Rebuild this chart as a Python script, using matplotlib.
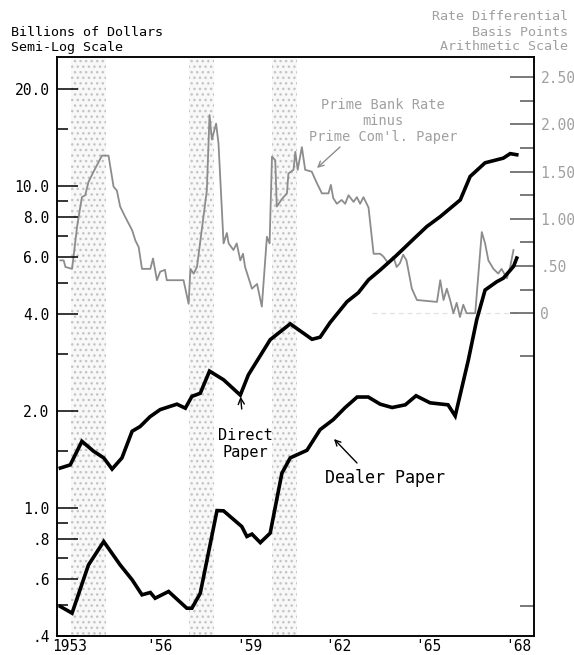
import matplotlib
matplotlib.use("Agg")
import matplotlib.pyplot as plt
from matplotlib.ticker import FixedLocator, NullFormatter, FixedFormatter

# ---------------- data ----------------
direct_years = [1953.19, 1953.52, 1953.91, 1954.30, 1954.64, 1954.92, 1955.25, 1955.59,
                1955.86, 1956.19, 1956.53, 1957.09, 1957.37, 1957.59, 1957.87, 1958.18,
                1958.65, 1959.21, 1959.48, 1960.21, 1960.88, 1961.61, 1961.88, 1962.21,
                1962.78, 1963.16, 1963.50, 1963.89, 1964.39, 1965.00, 1965.45, 1965.90,
                1966.57, 1966.90, 1967.40, 1968.01, 1968.24, 1968.46]
direct_vals = [1.33, 1.36, 1.61, 1.50, 1.43, 1.32, 1.43, 1.73,
               1.79, 1.92, 2.02, 2.10, 2.04, 2.22, 2.27, 2.66,
               2.50, 2.24, 2.59, 3.33, 3.73, 3.34, 3.39, 3.76,
               4.37, 4.66, 5.11, 5.48, 6.03, 6.83, 7.48, 8.03,
               9.05, 10.7, 11.8, 12.2, 12.6, 12.5]

dealer_years = [1953.19, 1953.58, 1954.13, 1954.64, 1955.19, 1955.59, 1955.92, 1956.20,
                1956.36, 1956.81, 1957.42, 1957.59, 1957.87, 1958.43, 1958.65, 1959.26,
                1959.43, 1959.60, 1959.88, 1960.21, 1960.60, 1960.88, 1961.44, 1961.88,
                1962.32, 1962.72, 1963.12, 1963.49, 1963.89, 1964.29, 1964.73, 1965.09,
                1965.56, 1966.16, 1966.40, 1966.84, 1967.12, 1967.40, 1967.79, 1968.01,
                1968.35, 1968.46]
dealer_vals = [0.494, 0.471, 0.665, 0.786, 0.665, 0.598, 0.537, 0.546,
               0.524, 0.550, 0.488, 0.488, 0.543, 0.981, 0.979, 0.875,
               0.815, 0.829, 0.780, 0.835, 1.28, 1.43, 1.51, 1.75,
               1.88, 2.05, 2.21, 2.21, 2.10, 2.05, 2.09, 2.23,
               2.12, 2.09, 1.93, 2.88, 3.84, 4.75, 5.04, 5.17,
               5.62, 5.97]

spread_years = [1953.19, 1953.30, 1953.36, 1953.58, 1953.63, 1953.75, 1953.91, 1954.02,
                1954.13, 1954.30, 1954.58, 1954.80, 1954.97, 1955.08, 1955.19, 1955.36,
                1955.59, 1955.70, 1955.81, 1955.92, 1956.20, 1956.29, 1956.42, 1956.53,
                1956.69, 1956.75, 1957.31, 1957.48, 1957.54, 1957.65, 1957.76, 1958.09,
                1958.18, 1958.26, 1958.40, 1958.48, 1958.65, 1958.76, 1958.82, 1958.98,
                1959.09, 1959.21, 1959.30, 1959.37, 1959.60, 1959.77, 1959.93, 1960.10,
                1960.19, 1960.27, 1960.38, 1960.43, 1960.60, 1960.77, 1960.82, 1960.99,
                1961.05, 1961.13, 1961.27, 1961.38, 1961.60, 1961.77, 1961.94, 1962.16,
                1962.24, 1962.32, 1962.44, 1962.60, 1962.72, 1962.83, 1963.00, 1963.11,
                1963.22, 1963.33, 1963.50, 1963.67, 1963.89, 1964.00, 1964.16, 1964.33,
                1964.44, 1964.55, 1964.66, 1964.77, 1964.95, 1965.12, 1965.79, 1965.90,
                1966.01, 1966.12, 1966.23, 1966.34, 1966.45, 1966.56, 1966.67, 1966.78,
                1967.07, 1967.29, 1967.40, 1967.51, 1967.68, 1967.84, 1967.95, 1968.13,
                1968.24, 1968.35]
spread_vals = [0.56, 0.56, 0.49, 0.47, 0.60, 0.92, 1.23, 1.25,
               1.39, 1.50, 1.67, 1.67, 1.34, 1.30, 1.13, 1.02,
               0.88, 0.77, 0.70, 0.47, 0.47, 0.58, 0.35, 0.44,
               0.46, 0.35, 0.35, 0.10, 0.47, 0.42, 0.49, 1.30,
               2.10, 1.84, 2.01, 1.80, 0.74, 0.85, 0.74, 0.67,
               0.74, 0.56, 0.63, 0.49, 0.26, 0.31, 0.07, 0.81,
               0.74, 1.66, 1.62, 1.13, 1.21, 1.27, 1.48, 1.52,
               1.71, 1.52, 1.76, 1.52, 1.50, 1.38, 1.27, 1.27,
               1.36, 1.22, 1.16, 1.20, 1.16, 1.25, 1.18, 1.23,
               1.16, 1.23, 1.12, 0.63, 0.63, 0.60, 0.53, 0.60,
               0.49, 0.53, 0.62, 0.56, 0.26, 0.14, 0.12, 0.35,
               0.14, 0.26, 0.14, 0.00, 0.11, -0.04, 0.09, 0.00,
               0.00, 0.86, 0.74, 0.56, 0.47, 0.42, 0.47, 0.37,
               0.49, 0.67]

recessions = [(1953.55, 1954.70), (1957.48, 1958.34), (1960.28, 1961.12)]

left_major = [0.4, 0.6, 0.8, 1.0, 2.0, 4.0, 6.0, 8.0, 10.0, 20.0]
left_major_labels = [".4", ".6", ".8", "1.0", "2.0", "4.0", "6.0", "8.0", "10.0", "20.0"]
left_minor = [0.5, 0.7, 0.9, 1.5, 3.0, 5.0, 7.0, 9.0, 15.0]

right_major = [0.0, 0.5, 1.0, 1.5, 2.0, 2.5]
right_major_labels = ["0", ".50", "1.00", "1.50", "2.00", "2.50"]
right_minor = [-3.1, -0.45, 0.25, 0.75, 1.25, 1.75, 2.25]

year_ticks = list(range(1954, 1969))
year_label_pos = [1953.5, 1956.5, 1959.5, 1962.5, 1965.5, 1968.5]
year_labels = ["1953", "'56", "'59", "'62", "'65", "'68"]

# ---------------- figure ----------------
W, H = 574, 655
fig = plt.figure(figsize=(W / 100, H / 100), dpi=100)
plt.rcParams["font.family"] = ["DejaVu Sans Mono", "DejaVu Sans"]
plt.rcParams["hatch.linewidth"] = 1.0


def fx(px):
    return px / W


def fy(py):
    return 1 - py / H


ax = fig.add_axes([fx(56.5), fy(636), fx(533.5) - fx(56.5), fy(57) - fy(636)])
ax2 = ax.twinx()
ax.set_zorder(ax2.get_zorder() + 1)
ax.patch.set_visible(False)

gray = "#8c8c8c"
textgray = "#a0a0a0"

# recession shading (stippled)
for a, b in recessions:
    ax2.axvspan(a, b, facecolor="#f8f8f8", edgecolor="#c4c4c4", hatch="...",
                linewidth=0, zorder=0)

# rate differential, right axis
ax2.plot([1963.6, 1968.6], [0, 0], color="#e2e2e2", lw=0.9, ls=(0, (4, 3)), zorder=1)
ax2.plot(spread_years, spread_vals, color=gray, lw=1.3, zorder=2)

# commercial paper outstanding, left log axis
ax.plot(direct_years, direct_vals, color="black", lw=2.6, solid_joinstyle="miter", zorder=3)
ax.plot(dealer_years, dealer_vals, color="black", lw=2.6, solid_joinstyle="miter", zorder=3)

ax.set_yscale("log")
ax.set_ylim(0.4, 25.15)
ax.set_xlim(1953.06, 1969.02)
ax2.set_ylim(-3.42, 2.715)

# left ticks
ax.yaxis.set_major_locator(FixedLocator(left_major))
ax.yaxis.set_major_formatter(FixedFormatter(left_major_labels))
ax.yaxis.set_minor_locator(FixedLocator(left_minor))
ax.yaxis.set_minor_formatter(NullFormatter())
ax.tick_params(axis="y", which="major", direction="in", length=15, width=1.1,
               labelsize=10.5, pad=5, left=True, right=False)
ax.tick_params(axis="y", which="minor", direction="in", length=8, width=1.1,
               left=True, right=False)

# x ticks at year boundaries, labels at mid-year
ax.xaxis.set_major_locator(FixedLocator(year_ticks))
ax.xaxis.set_major_formatter(NullFormatter())
ax.xaxis.set_minor_locator(FixedLocator(year_label_pos))
ax.xaxis.set_minor_formatter(FixedFormatter(year_labels))
ax.tick_params(axis="x", which="major", direction="in", length=9, width=1.1,
               top=True, bottom=True)
ax.tick_params(axis="x", which="minor", length=0, labelsize=10.5, pad=2.5)

# right ticks
ax2.yaxis.set_major_locator(FixedLocator(right_major))
ax2.yaxis.set_major_formatter(FixedFormatter(right_major_labels))
ax2.yaxis.set_minor_locator(FixedLocator(right_minor))
ax2.yaxis.set_minor_formatter(NullFormatter())
ax2.tick_params(axis="y", which="major", direction="in", length=17, width=1.1,
                labelsize=10.5, labelcolor=textgray, color="#555555", pad=5)
ax2.tick_params(axis="y", which="minor", direction="in", length=10, width=1.1,
                color="#555555")
ax2.set_xticks([])

for a in (ax, ax2):
    for s in a.spines.values():
        s.set_linewidth(1.1)

# headers
fig.text(fx(11), fy(33), "Billions of Dollars", fontsize=9.6, ha="left", va="center")
fig.text(fx(11), fy(48), "Semi-Log Scale", fontsize=9.6, ha="left", va="center")
fig.text(fx(568), fy(16), "Rate Differential", fontsize=9.6, ha="right", va="center",
         color=textgray)
fig.text(fx(568), fy(32), "Basis Points", fontsize=9.6, ha="right", va="center",
         color=textgray)
fig.text(fx(568), fy(47), "Arithmetic Scale", fontsize=9.6, ha="right", va="center",
         color=textgray)

# annotations
fig.text(fx(383), fy(121), "Prime Bank Rate\nminus\nPrime Com'l. Paper",
         ha="center", va="center", fontsize=9.8, color=textgray, linespacing=1.2)
ax.annotate("", xy=(fx(317), fy(168)), xycoords="figure fraction",
            xytext=(fx(340), fy(147)), textcoords="figure fraction",
            arrowprops=dict(arrowstyle="->", color=gray, lw=1.0, shrinkA=0, shrinkB=0))

ax.annotate("Direct\nPaper", xy=(1959.21, 2.26), xycoords="data",
            xytext=(fx(245), fy(444)), textcoords="figure fraction",
            ha="center", va="center", fontsize=11, linespacing=1.1,
            arrowprops=dict(arrowstyle="->", color="black", lw=1.0, shrinkA=12, shrinkB=2))

fig.text(fx(385), fy(478), "Dealer Paper", ha="center", va="center", fontsize=12)
ax.annotate("", xy=(fx(334), fy(439)), xycoords="figure fraction",
            xytext=(fx(357), fy(463)), textcoords="figure fraction",
            arrowprops=dict(arrowstyle="->", color="black", lw=1.0, shrinkA=0, shrinkB=0))

fig.savefig("out.png", dpi=100)
